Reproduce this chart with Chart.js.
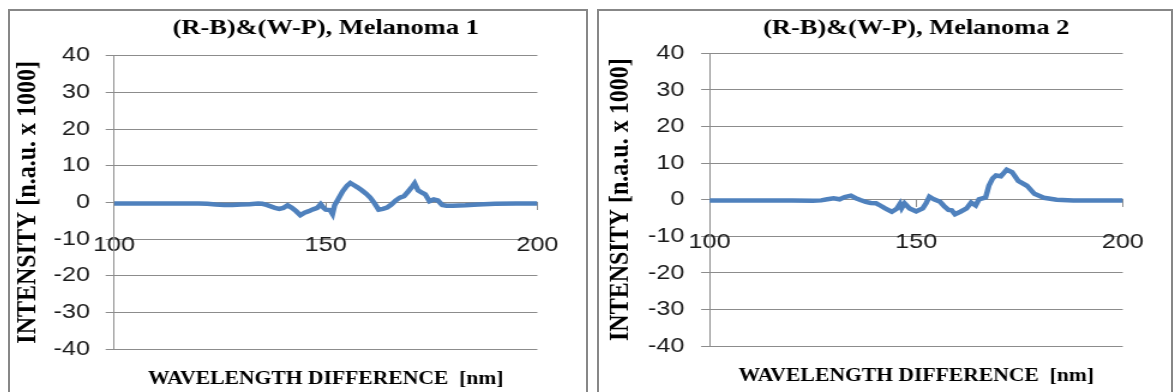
<!DOCTYPE html>
<html>
<head>
<meta charset="utf-8">
<title>(R-B)&amp;(W-P), Melanoma</title>
<script src="https://cdn.jsdelivr.net/npm/chart.js@4.4.1/dist/chart.umd.min.js"></script>
<style>
    html, body { margin: 0; padding: 0; background: #fff; width: 1174px; height: 392px; overflow: hidden; }
    body { position: relative; }
    .panel { position: absolute; top: 9px; height: 400px; border: 2px solid #878787; box-sizing: border-box; }
    #panel1 { left: 8px; width: 580px; }
    #panel2 { left: 597px; width: 576px; }
    /* the source picture is stretched sideways, so the charts are too */
    .stretch { position: absolute; top: 11px; transform: scaleX(1.2); transform-origin: 0 0; }
    #wrap1 { left: 10px; }
    #wrap2 { left: 599px; }
</style>
</head>
<body>
<div class="panel" id="panel1"></div>
<div class="panel" id="panel2"></div>
<div class="stretch" id="wrap1"><canvas id="melanoma1Chart" width="480" height="381"></canvas></div>
<div class="stretch" id="wrap2"><canvas id="melanoma2Chart" width="477" height="381"></canvas></div>

<script>
"use strict";

// wavelength difference [nm] and intensity [n.a.u. x 1000]
var melanoma1Nm = [100, 105, 110, 115, 120, 122, 124, 126, 128, 130, 132, 134, 135, 136, 137, 138, 139, 140, 141, 142,
    143, 144, 145, 146, 147, 148, 148.8, 149.5, 150, 151, 151.6, 152.1, 153, 154, 155, 155.8, 156.5, 157.5, 158.5, 159.5,
    160.5, 161.5, 162.5, 163.5, 164.5, 165.5, 166.5, 167.5, 168.5, 169.5, 170.5, 171, 171.8, 172.5, 173.5, 174.5, 175.5,
    176.5, 177.5, 178.5, 180, 183, 186, 190, 195, 200];
var melanoma1Intensity = [-0.3, -0.3, -0.3, -0.3, -0.3, -0.4, -0.6, -0.7, -0.7, -0.6, -0.5, -0.3, -0.4, -0.7, -1.1, -1.5, -1.8, -1.5, -0.8, -1.5,
    -2.4, -3.5, -2.8, -2.4, -1.9, -1.5, -0.5, -1.5, -2.0, -2.1, -3.2, -0.8, 1.0, 3.0, 4.5, 5.3, 4.8, 4.1, 3.3, 2.4,
    1.3, -0.2, -2.0, -1.8, -1.4, -0.6, 0.5, 1.3, 1.7, 3.0, 4.4, 5.2, 3.3, 2.8, 2.2, 0.3, 0.8,
    0.5, -0.7, -0.9, -0.9, -0.8, -0.6, -0.4, -0.3, -0.3];

var melanoma2Nm = [100, 110, 120, 125, 127, 128.5, 130, 131.5, 132.7, 134.2, 135.4, 136.5, 137.8, 139, 140.3, 141, 142.5,
    144.1, 145.3, 146.1, 146.5, 147.2, 148.4, 150, 151.6, 152.4, 153.2, 154.3, 155.8, 156.8, 157.8, 158.6, 159.4, 160.7,
    162.2, 163.3, 164.4, 165.2, 166.8, 167.6, 168.5, 169.3, 170.5, 171.9, 173.2, 174.7, 176.8, 178.6, 180.9, 184, 188, 200];
var melanoma2Intensity = [-0.2, -0.2, -0.2, -0.3, -0.2, 0.1, 0.4, 0.1, 0.7, 1.1, 0.4, -0.1, -0.6, -0.9, -1.0, -1.4, -2.4,
    -3.3, -2.5, -1.1, -2.3, -1.0, -2.4, -3.2, -2.4, -1.0, 0.8, 0.1, -0.6, -1.8, -2.8, -2.9, -4.0, -3.3,
    -2.4, -0.8, -1.6, 0.1, 0.6, 3.8, 5.8, 6.6, 6.4, 8.2, 7.5, 5.1, 3.8, 1.6, 0.5, 0, -0.2, -0.2];

var xTickValues = [100, 150, 200];
var yTickValues = [-40, -30, -20, -10, 0, 10, 20, 30, 40];

var chartTitles = ['(R-B)&(W-P), Melanoma 1', '(R-B)&(W-P), Melanoma 2'];
var xAxisTitle = 'WAVELENGTH DIFFERENCE  [nm]';
var yAxisTitle = 'INTENSITY [n.a.u. x 1000]';

var MelanomaCharts = function () {

    var serif = "'Liberation Serif', 'Times New Roman', serif";
    var sans = "'Liberation Sans', Arial, sans-serif";
    var gridColor = '#8c8c8c';
    var lineColor = '#4f81bd';

    var fixedTicks = function (values) {
        return function (scale) {
            scale.ticks = values.map(function (v) {
                return { value: v };
            });
        };
    };

    var makeChart = function (canvasId, title, nm, intensity, box) {
        var points = nm.map(function (x, i) {
            return { x: x, y: intensity[i] };
        });

        return new Chart(document.getElementById(canvasId), {
            type: 'line',
            data: {
                datasets: [{
                    data: points,
                    borderColor: lineColor,
                    borderWidth: 4.5,
                    pointRadius: 0,
                    tension: 0,
                    fill: false
                }]
            },
            options: {
                responsive: false,
                animation: false,
                layout: {
                    padding: { left: 0, top: 0, right: box.padRight, bottom: box.padBottom }
                },
                plugins: {
                    legend: { display: false },
                    tooltip: { enabled: false },
                    title: {
                        display: true,
                        text: title,
                        fullSize: false,
                        color: '#000',
                        font: { family: serif, size: 22, weight: 'bold', lineHeight: 1.2 },
                        padding: { top: 4.4, bottom: box.titleGap }
                    }
                },
                scales: {
                    x: {
                        type: 'linear',
                        position: { y: 0 },
                        min: 100,
                        max: 200,
                        afterBuildTicks: fixedTicks(xTickValues),
                        afterFit: function (scale) {
                            scale.height = 187.8;
                        },
                        ticks: {
                            padding: 23,
                            maxRotation: 0,
                            color: '#1a1a1a',
                            font: { family: sans, size: 21, lineHeight: 1.2 }
                        },
                        grid: { drawOnChartArea: false, tickLength: 7, color: gridColor },
                        border: { color: gridColor, width: 1 },
                        title: {
                            display: true,
                            text: xAxisTitle,
                            color: '#000',
                            padding: 0,
                            font: { family: serif, size: 18, weight: 'bold', lineHeight: 1.2 }
                        }
                    },
                    y: {
                        min: -40,
                        max: 40,
                        afterBuildTicks: fixedTicks(yTickValues),
                        afterFit: function (scale) {
                            scale.width = box.axisWidth;
                        },
                        ticks: {
                            padding: box.tickPad,
                            color: '#1a1a1a',
                            font: { family: sans, size: 21, lineHeight: 1.2 }
                        },
                        grid: { color: gridColor, tickLength: 7, lineWidth: 1 },
                        border: { color: gridColor, width: 1 },
                        title: {
                            display: true,
                            text: yAxisTitle,
                            color: '#000',
                            padding: { top: box.yTitlePad, bottom: 0 },
                            font: { family: serif, size: 24, weight: 'bold', lineHeight: 1.2 }
                        }
                    }
                }
            }
        });
    };

    return {
        init: function () {
            makeChart('melanoma1Chart', chartTitles[0], melanoma1Nm, melanoma1Intensity, {
                padRight: 37.5, padBottom: 43, titleGap: 13.9, axisWidth: 86.7, tickPad: 13, yTitlePad: 0.6
            });
            makeChart('melanoma2Chart', chartTitles[1], melanoma2Nm, melanoma2Intensity, {
                padRight: 30.9, padBottom: 46, titleGap: 11.5, axisWidth: 92.1, tickPad: 14, yTitlePad: 3.1
            });
        }
    };

}();

MelanomaCharts.init();
</script>
</body>
</html>
